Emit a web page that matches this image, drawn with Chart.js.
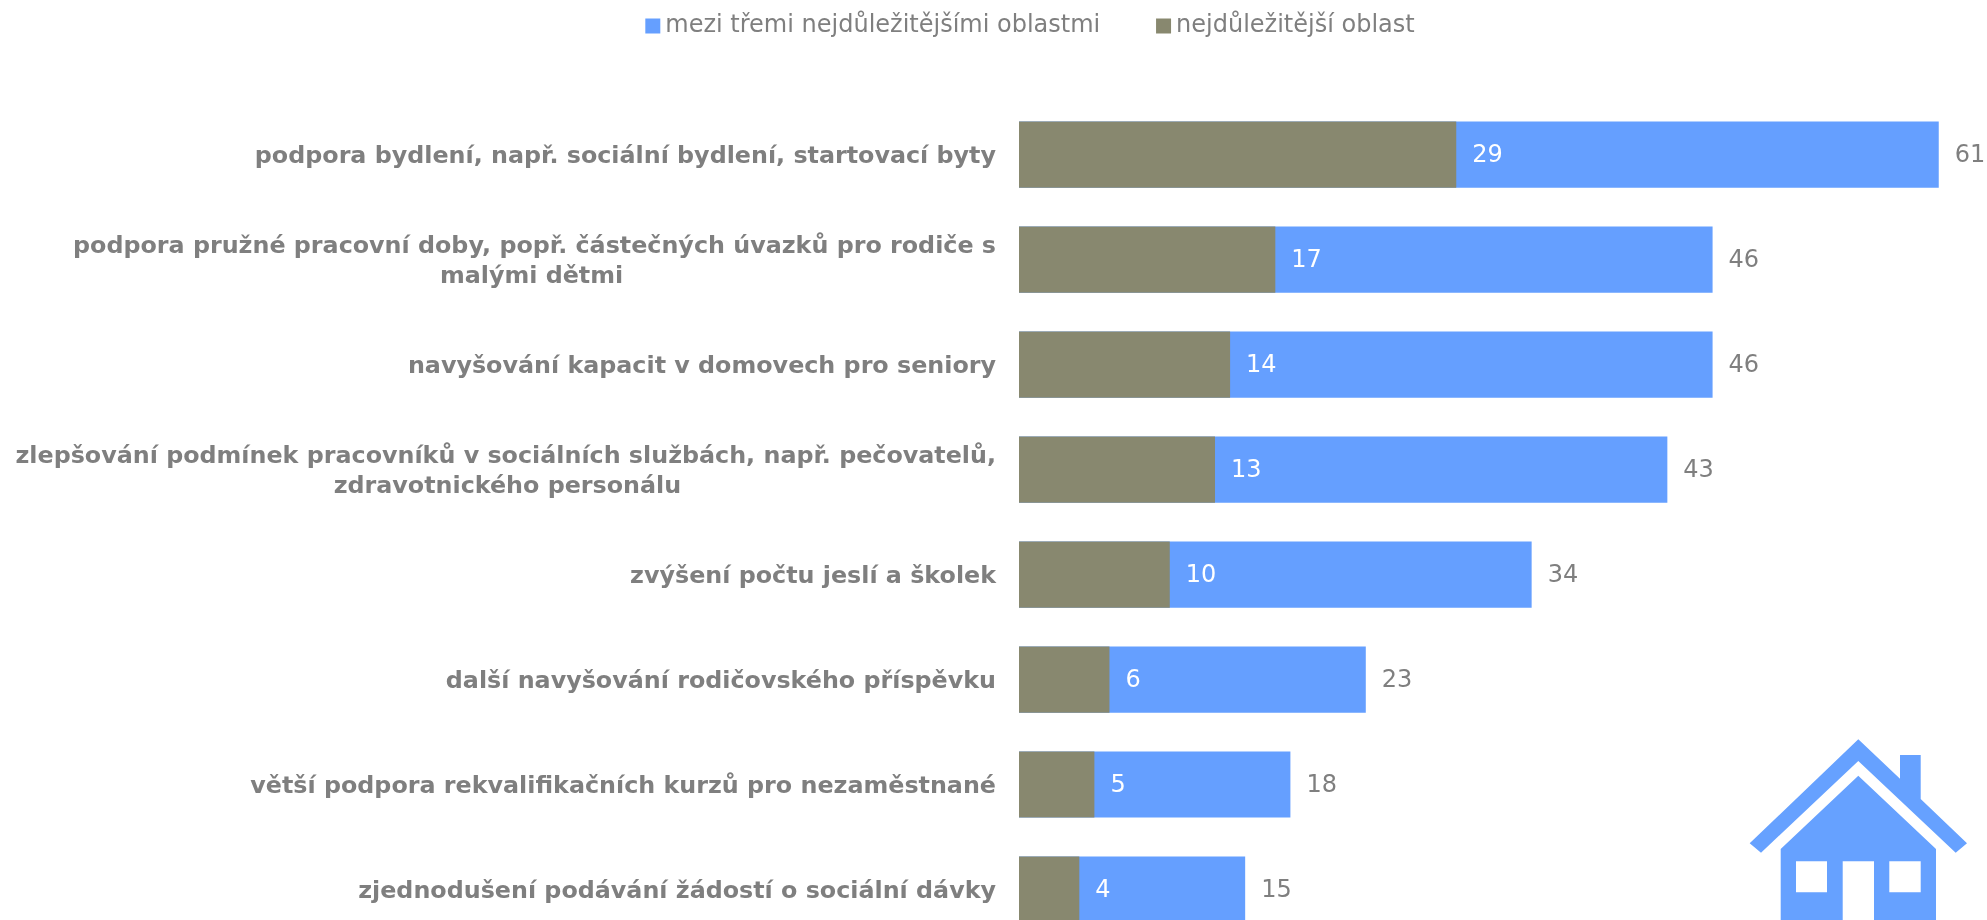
<!DOCTYPE html>
<html lang="cs"><head><meta charset="utf-8">
<script src="https://cdn.jsdelivr.net/npm/chart.js@4/dist/chart.umd.min.js"></script>
<style>
html,body{margin:0;padding:0;background:#fff;overflow:hidden;width:1987px;height:920px}
#wrap{position:relative;width:1987px;height:920px;overflow:hidden}
canvas{position:absolute;left:0;top:0}
svg{position:absolute;left:0;top:0;pointer-events:none}
</style></head><body>
<div id="wrap">
<canvas id="c" width="1987" height="980"></canvas>
<svg width="1987" height="920" viewBox="0 0 1987 920">
<path fill="#66A1FF" d="M1858.3 739.3L1900 778.7V755H1920.7V799L1967 843.3L1955.7 852.7L1858.3 761L1761 852.7L1749.7 843.3Z"/>
<path fill="#66A1FF" fill-rule="evenodd" d="M1858.3 775.7L1936 849V920H1874V861.3H1842.7V920H1780.7V849ZM1796 861.3V892.3H1827V861.3ZM1889.3 861.3V892.3H1920.7V861.3Z"/>
</svg>
</div>
<script>
const categories = [
  ["podpora bydlení, např. sociální bydlení, startovací byty"],
  ["podpora pružné pracovní doby, popř. částečných úvazků pro rodiče s","malými dětmi"],
  ["navyšování kapacit v domovech pro seniory"],
  ["zlepšování podmínek pracovníků v sociálních službách, např. pečovatelů,","zdravotnického personálu"],
  ["zvýšení počtu jeslí a školek"],
  ["další navyšování rodičovského příspěvku"],
  ["větší podpora rekvalifikačních kurzů pro nezaměstnané"],
  ["zjednodušení podávání žádostí o sociální dávky"]
];
const topThree = [61,46,46,43,34,23,18,15];
const mostImportant = [29,17,14,13,10,6,5,4];
const seriesNames = ["mezi třemi nejdůležitějšími oblastmi","nejdůležitější oblast"];
const BLUE="#659FFF", OLIVE="#88886F", GREY="#7F7F7F";
const FONT="'DejaVu Sans', Verdana, sans-serif";
const LABEL_PX=23.8, VALUE_PX=24;

const mctx=document.createElement('canvas').getContext('2d');
function centered(lines){
  if(lines.length<2) return lines[0];
  mctx.font=`bold ${LABEL_PX}px ${FONT}`;
  const W=Math.max(...lines.map(l=>mctx.measureText(l).width));
  const sp=mctx.measureText('\u00A0').width;
  return lines.map(l=>l+'\u00A0'.repeat(Math.round((W-mctx.measureText(l).width)/2/sp)));
}
const valueLabels={
  id:'valueLabels',
  afterDatasetsDraw(chart){
    const ctx=chart.ctx;
    ctx.save();
    ctx.font=`${VALUE_PX}px ${FONT}`;
    ctx.textBaseline='middle';ctx.textAlign='left';
    chart.getDatasetMeta(1).data.forEach((b,i)=>{
      ctx.fillStyle=GREY;ctx.fillText(String(topThree[i]),b.x+16,b.y+1);
    });
    chart.getDatasetMeta(0).data.forEach((b,i)=>{
      ctx.fillStyle='#fff';ctx.fillText(String(mostImportant[i]),b.x+16,b.y+1);
    });
    ctx.restore();
  }
};
new Chart(document.getElementById('c'),{
  type:'bar',
  data:{labels:categories,datasets:[
    {label:seriesNames[1],data:mostImportant,backgroundColor:OLIVE,borderWidth:0,grouped:false,barPercentage:1,categoryPercentage:0.63},
    {label:seriesNames[0]+'\u00A0'.repeat(6),data:topThree,backgroundColor:BLUE,borderWidth:0,grouped:false,barPercentage:1,categoryPercentage:0.63}
  ]},
  options:{
    indexAxis:'y',responsive:false,animation:false,
    layout:{padding:{left:0,right:-80,top:-3,bottom:0}},
    plugins:{
      tooltip:{enabled:false},
      title:{display:true,text:'',weight:500,font:{size:1},padding:{top:0,bottom:53}},
      legend:{position:'top',labels:{
        usePointStyle:true,pointStyle:'rect',boxWidth:1,boxHeight:15,padding:17,
        color:GREY,font:{family:FONT,size:24},
        sort:(a,b)=>b.datasetIndex-a.datasetIndex
      }}
    },
    scales:{
      x:{display:false,min:0,max:64.2,grid:{display:false}},
      y:{grid:{display:false,drawTicks:false},border:{display:false},
        afterFit(s){s.width=1019;},
        ticks:{autoSkip:false,padding:23,labelOffset:2,color:GREY,font:{family:FONT,size:LABEL_PX,weight:'bold',lineHeight:1.26},
          callback(v,i){return centered(categories[i]);}}
      }
    }
  },
  plugins:[valueLabels]
});
</script>
</body></html>
